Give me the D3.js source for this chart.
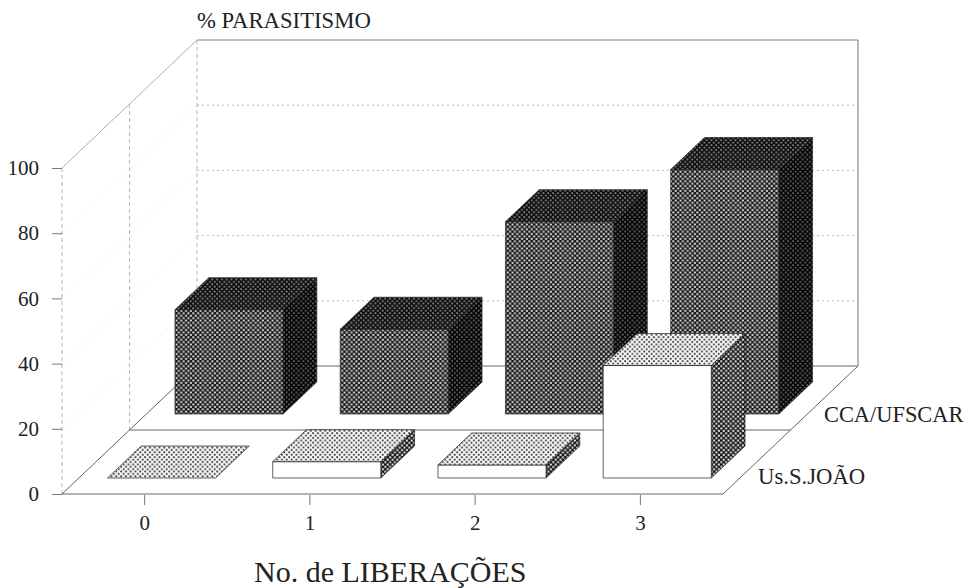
<!DOCTYPE html>
<html>
<head>
<meta charset="utf-8">
<script src="https://cdn.jsdelivr.net/npm/d3@7"></script>
<style>
  body { margin: 0; background: #fff; }
  text { font-family: "Liberation Serif", serif; fill: #222; }
</style>
</head>
<body>
<svg id="chart" width="968" height="588"></svg>
<script>
const categories = ['0', '1', '2', '3']
const seriesNames = ['Us.S.JOÃO', 'CCA/UFSCAR']
const usJoao = [0, 5, 4, 34.5]
const ccaUfscar = [32, 26, 59, 75]
const yTicks = [0, 20, 40, 60, 80, 100]

const svg = d3.select('#chart')
const defs = svg.append('defs')

// Halftone fills, the scan's dot screens
const pitch = 4.8
const addScreen = (id, bg, dot, size) => {
  const p = defs.append('pattern')
    .attr('id', id)
    .attr('width', pitch)
    .attr('height', pitch)
    .attr('patternUnits', 'userSpaceOnUse')
  p.append('rect').attr('width', pitch).attr('height', pitch).attr('fill', bg)
  p.append('rect').attr('x', 0.3).attr('y', 0.3).attr('width', size).attr('height', size).attr('fill', dot)
  p.append('rect').attr('x', pitch / 2 + 0.3).attr('y', pitch / 2 + 0.3).attr('width', size).attr('height', size).attr('fill', dot)
}
addScreen('darkFront', '#1a1a1a', '#d8d8d8', 2)
addScreen('darkSide', '#050505', '#777', 1.6)
addScreen('darkTop', '#101010', '#999', 1.6)
addScreen('lightTop', '#f8f8f8', '#222', 1.7)
addScreen('lightSide', '#161616', '#e8e8e8', 2)

const x = d3.scaleBand()
  .domain(categories)
  .range([62, 723])
  .paddingInner(0.346)
  .paddingOuter(0.173)
const y = d3.scaleLinear().domain([0, 100]).range([494, 168])
// depth runs front to back, one unit per series
const depthX = d3.scaleLinear().domain([0, 2]).range([0, 135])
const depthY = d3.scaleLinear().domain([0, 2]).range([0, -128])

const pt = (px, value, d) => [px + depthX(d), y(value) + depthY(d)]
const path = pts => d3.line()(pts) + 'Z'

// Walls and floor
const walls = svg.append('g').attr('fill', 'none')
const x0 = x.range()[0], x1 = x.range()[1]

yTicks.forEach(t => {
  // Back wall gridlines
  if (t > 0) {
    walls.append('line')
      .attr('x1', pt(x0, t, 2)[0]).attr('y1', pt(x0, t, 2)[1])
      .attr('x2', pt(x1, t, 2)[0]).attr('y2', pt(x1, t, 2)[1])
      .attr('stroke', t === 100 ? '#666' : '#aaa')
      .attr('stroke-width', 0.8)
      .attr('stroke-dasharray', t === 100 ? null : '2 3')
  }
  // Side wall gridlines
  if (t > 0 && t < 100) {
    walls.append('line')
      .attr('x1', pt(x0, t, 0)[0]).attr('y1', pt(x0, t, 0)[1])
      .attr('x2', pt(x0, t, 2)[0]).attr('y2', pt(x0, t, 2)[1])
      .attr('stroke', '#ddd')
      .attr('stroke-width', 0.8)
      .attr('stroke-dasharray', '1 3')
  }
})

// Uprights on the side wall
;[0, 1, 2].forEach(d => {
  walls.append('line')
    .attr('x1', pt(x0, 0, d)[0]).attr('y1', pt(x0, 0, d)[1])
    .attr('x2', pt(x0, 100, d)[0]).attr('y2', pt(x0, 100, d)[1])
    .attr('stroke', '#999')
    .attr('stroke-width', 0.7)
    .attr('stroke-dasharray', '4 3')
})
walls.append('line')
  .attr('x1', pt(x1, 0, 2)[0]).attr('y1', pt(x1, 0, 2)[1])
  .attr('x2', pt(x1, 100, 2)[0]).attr('y2', pt(x1, 100, 2)[1])
  .attr('stroke', '#777')
walls.append('line')
  .attr('x1', pt(x0, 100, 0)[0]).attr('y1', pt(x0, 100, 0)[1])
  .attr('x2', pt(x0, 100, 2)[0]).attr('y2', pt(x0, 100, 2)[1])
  .attr('stroke', '#999')
  .attr('stroke-width', 0.8)

// Floor outline plus the line between the two series
walls.append('path')
  .attr('d', path([pt(x0, 0, 0), pt(x1, 0, 0), pt(x1, 0, 2), pt(x0, 0, 2)]))
  .attr('stroke', '#666')
walls.append('line')
  .attr('x1', pt(x0, 0, 1)[0]).attr('y1', pt(x0, 0, 1)[1])
  .attr('x2', pt(x1, 0, 1)[0]).attr('y2', pt(x1, 0, 1)[1])
  .attr('stroke', '#666')

// Bars, back row first so the front row covers it
const drawBars = (values, d0, d1, fills) => {
  const g = svg.append('g').attr('stroke', '#222').attr('stroke-width', 0.7)
  categories.forEach((c, i) => {
    const l = x(c), r = x(c) + x.bandwidth(), v = values[i]
    const bar = g.append('g').attr('class', 'bar')
    if (v > 0) {
      bar.append('path')
        .attr('fill', fills.side)
        .attr('d', path([pt(r, 0, d0), pt(r, 0, d1), pt(r, v, d1), pt(r, v, d0)]))
      bar.append('path')
        .attr('fill', fills.front)
        .attr('d', path([pt(l, 0, d0), pt(r, 0, d0), pt(r, v, d0), pt(l, v, d0)]))
    }
    bar.append('path')
      .attr('fill', fills.top)
      .attr('d', path([pt(l, v, d0), pt(r, v, d0), pt(r, v, d1), pt(l, v, d1)]))
  })
}
drawBars(ccaUfscar, 1.25, 1.75, { front: 'url(#darkFront)', side: 'url(#darkSide)', top: 'url(#darkTop)' })
drawBars(usJoao, 0.25, 0.75, { front: '#fff', side: 'url(#lightSide)', top: 'url(#lightTop)' })

// Axes
const yAxis = svg.append('g')
  .attr('transform', `translate(${x0},0)`)
  .call(d3.axisLeft(y).tickValues(yTicks).tickSize(10).tickPadding(13))
yAxis.select('.domain').remove()
yAxis.selectAll('line').attr('stroke', '#555').attr('stroke-width', 0.8)
yAxis.selectAll('text').attr('font-size', 21).style('font-family', '"Liberation Serif", serif')

const xAxis = svg.append('g')
  .attr('transform', `translate(0,${y(0) + 1})`)
  .call(d3.axisBottom(x).tickSize(10).tickPadding(10))
xAxis.select('.domain').remove()
xAxis.selectAll('line').attr('stroke', '#555').attr('stroke-width', 0.8)
xAxis.selectAll('text').attr('font-size', 21).style('font-family', '"Liberation Serif", serif')

// Titles and series labels
svg.append('text').attr('x', 197).attr('y', 28).attr('font-size', 22.7).text('% PARASITISMO')
svg.append('text').attr('x', 254).attr('y', 582).attr('font-size', 30).text('No. de LIBERAÇÕES')
svg.append('text').attr('x', 758).attr('y', 484).attr('font-size', 22.7).text(seriesNames[0])
svg.append('text').attr('x', 824).attr('y', 422).attr('font-size', 22.4).text(seriesNames[1])
</script>
</body>
</html>
